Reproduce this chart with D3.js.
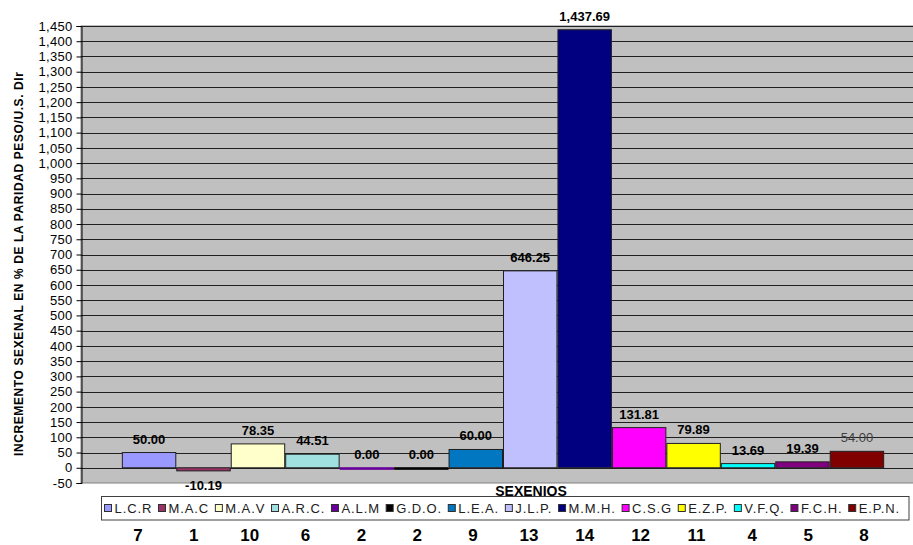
<!DOCTYPE html>
<html><head><meta charset="utf-8">
<script src="https://cdn.jsdelivr.net/npm/d3@7"></script>
<style>
html,body{margin:0;padding:0;background:#fff;}
svg{display:block;font-family:Arial,"Liberation Sans",sans-serif;}
</style></head>
<body>
<svg id="chart" width="913" height="545"></svg>
<script>
const series = ["L.C.R","M.A.C","M.A.V","A.R.C.","A.L.M","G.D.O.","L.E.A.","J.L.P.","M.M.H.","C.S.G","E.Z.P.","V.F.Q.","F.C.H.","E.P.N."];
const values = [50.00,-10.19,78.35,44.51,0.00,0.00,60.00,646.25,1437.69,131.81,79.89,13.69,19.39,54.00];
const colors = ["#9999FF","#993366","#FFFFCC","#A0E0E0","#660099","#000000","#0077C0","#C0C0FF","#000080","#FF00FF","#FFFF00","#00FFFF","#800080","#800000"];
const ranks = ["7","1","10","6","2","2","9","13","14","12","11","4","5","8"];
const yTicks = d3.range(-50, 1451, 50);
const yTitle = "INCREMENTO SEXENAL EN % DE LA PARIDAD PESO/U.S. Dlr";
const xTitle = "SEXENIOS";

const svg = d3.select("#chart");
const plot = {left:81, right:925, top:26, bottom:483};

const y = d3.scaleLinear().domain([-50,1450]).range([plot.bottom, plot.top]);
const x = d3.scaleBand().domain(series).range([plot.left, plot.right]).paddingInner(0).paddingOuter(0.75);

// plot background
svg.append("rect").attr("x",plot.left).attr("y",plot.top)
  .attr("width",plot.right-plot.left).attr("height",plot.bottom-plot.top)
  .attr("fill","#C0C0C0").attr("stroke","#808080").attr("stroke-width",1);

// gridlines
svg.append("g").selectAll("line").data(yTicks.filter(t=>t>-50)).join("line")
  .attr("x1",plot.left).attr("x2",plot.right)
  .attr("y1",d=>Math.round(y(d))+0.5).attr("y2",d=>Math.round(y(d))+0.5)
  .attr("stroke","#202020").attr("stroke-width",1);

// y axis
const fmtTick = d => d3.format(",")(d).replace("\u2212","-");
const yAxis = d3.axisLeft(y).tickValues(yTicks).tickSize(5).tickFormat(fmtTick);
const gy = svg.append("g").attr("transform",`translate(${plot.left+0.5},0)`).call(yAxis);
gy.select(".domain").attr("stroke","#000");
gy.selectAll(".tick line").attr("stroke","#000");
gy.selectAll(".tick text").attr("font-size","13px").attr("fill","#000")
  .attr("font-family","Arial,'Liberation Sans',sans-serif").attr("x",-9).attr("letter-spacing","0.3px");

// bars
svg.append("g").selectAll("rect").data(series).join("rect")
  .attr("x",d=>x(d)+0.5)
  .attr("y",(d,i)=>Math.min(y(values[i]),y(0)))
  .attr("width",x.bandwidth()-1)
  .attr("height",(d,i)=>Math.max(Math.abs(y(values[i])-y(0)),1.5))
  .attr("fill",(d,i)=>colors[i])
  .attr("stroke",(d,i)=>values[i]===0?colors[i]:"#202020").attr("stroke-width",1);

// value labels
const fmt = d => d3.format(",.2f")(d).replace("\u2212","-");
svg.append("g").selectAll("text").data(series).join("text")
  .attr("x",d=>x(d)+x.bandwidth()/2)
  .attr("y",(d,i)=>values[i]<0 ? y(values[i])+19 : y(values[i])-9)
  .attr("text-anchor","middle")
  .attr("font-size","13px")
  .attr("font-weight",(d,i)=>i===13?"normal":"bold")
  .attr("fill",(d,i)=>i===13?"#404040":"#000")
  .text((d,i)=>fmt(values[i]));

// y title
svg.append("text").attr("transform","translate(23,264) rotate(-90)")
  .attr("text-anchor","middle").attr("font-size","12px").attr("font-weight","bold")
  .attr("textLength",384).attr("lengthAdjust","spacing")
  .text(yTitle);

// x title
svg.append("text").attr("x",531).attr("y",496).attr("text-anchor","middle")
  .attr("font-size","14px").attr("font-weight","bold").text(xTitle);

// legend
const leg = {left:101.5, top:496.5, right:909, bottom:520};
svg.append("rect").attr("x",leg.left).attr("y",leg.top)
  .attr("width",leg.right-leg.left).attr("height",leg.bottom-leg.top)
  .attr("fill","#fff").attr("stroke","#404040");
const lg = svg.append("g");
const items = lg.selectAll("g").data(series).join("g");
items.append("rect").attr("width",7).attr("height",7).attr("y",-8.5)
  .attr("fill",(d,i)=>colors[i]).attr("stroke","#303030");
items.append("text").attr("x",10).attr("y",0).attr("font-size","13px")
  .attr("letter-spacing","0.9px").attr("fill","#202020").text(d=>d);
const widths = [];
items.each(function(){ widths.push(10 + d3.select(this).select("text").node().getComputedTextLength()); });
const totalW = d3.sum(widths);
const avail = leg.right - leg.left - 12;
const gap = (avail - totalW)/(series.length-1);
let cx = leg.left + 3;
items.attr("transform",(d,i)=>{ const t=`translate(${cx},513)`; cx += widths[i]+gap; return t; });

// bottom rank numbers
const xr = d3.scalePoint().domain(d3.range(ranks.length)).range([138,864]);
svg.append("g").selectAll("text").data(ranks).join("text")
  .attr("x",(d,i)=>xr(i)).attr("y",541).attr("text-anchor","middle")
  .attr("font-size","17px").attr("font-weight","bold").text(d=>d);
</script>
</body></html>
